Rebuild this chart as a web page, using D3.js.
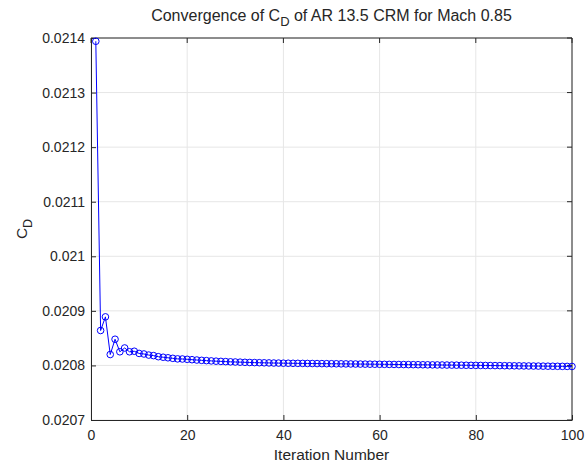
<!DOCTYPE html>
<html>
<head>
<meta charset="utf-8">
<script src="https://cdn.jsdelivr.net/npm/d3@7"></script>
<style>
  body { margin: 0; background: #fff; }
  text { font-family: "Liberation Sans", Arial, Helvetica, sans-serif; fill: #262626; }
</style>
</head>
<body>
<div id="chart"></div>
<script>
// iteration numbers 1..100 and CD values
const iterations = d3.range(1, 101);
const cdValues = [
  0.021394, 0.020864, 0.020889, 0.020820, 0.020848, 0.020825, 0.020832, 0.020825, 0.020826, 0.020822,
  0.020821, 0.020819, 0.020818, 0.020816, 0.020815, 0.020814, 0.020813, 0.020812, 0.0208118, 0.0208112,
  0.0208105, 0.0208099, 0.0208093, 0.0208088, 0.0208083, 0.0208078, 0.0208074, 0.0208070, 0.0208066, 0.0208063,
  0.0208060, 0.0208057, 0.0208054, 0.0208052, 0.0208050, 0.0208048, 0.0208046, 0.0208044, 0.0208043, 0.0208041,
  0.0208040, 0.0208039, 0.0208038, 0.0208037, 0.0208036, 0.0208035, 0.0208034, 0.0208033, 0.0208032, 0.0208031,
  0.0208030, 0.0208029, 0.0208028, 0.0208027, 0.0208026, 0.0208025, 0.0208024, 0.0208023, 0.0208022, 0.0208021,
  0.0208020, 0.0208019, 0.0208018, 0.0208017, 0.0208016, 0.0208015, 0.0208014, 0.0208013, 0.0208012, 0.0208011,
  0.0208010, 0.0208009, 0.0208008, 0.0208007, 0.0208006, 0.0208005, 0.0208004, 0.0208003, 0.0208002, 0.0208001,
  0.0208000, 0.0207999, 0.0207998, 0.0207997, 0.0207996, 0.0207995, 0.0207994, 0.0207993, 0.0207992, 0.0207991,
  0.0207990, 0.0207989, 0.0207988, 0.0207987, 0.0207986, 0.0207985, 0.0207984, 0.0207983, 0.0207982, 0.0207981
];
const xTicks = [0, 20, 40, 60, 80, 100];
const yTicks = [0.0207, 0.0208, 0.0209, 0.021, 0.0211, 0.0212, 0.0213, 0.0214];

const data = iterations.map((it, i) => ({iter: it, cd: cdValues[i]}));

const W = 587, H = 468;
const margin = {top: 38, right: 15, bottom: 48, left: 91};
const width = W - margin.left - margin.right;
const height = H - margin.top - margin.bottom;

const svg = d3.select("#chart").append("svg")
    .attr("width", W)
    .attr("height", H);

const g = svg.append("g")
    .attr("transform", `translate(${margin.left},${margin.top})`);

const x = d3.scaleLinear().domain([0, 100]).range([0, width]);
const y = d3.scaleLinear().domain([0.0207, 0.0214]).range([height, 0]);

// grid
g.append("g").selectAll("line.gx")
    .data(xTicks)
    .join("line")
    .attr("x1", d => x(d)).attr("x2", d => x(d))
    .attr("y1", 0).attr("y2", height)
    .attr("stroke", "#e6e6e6").attr("stroke-width", 1);
g.append("g").selectAll("line.gy")
    .data(yTicks)
    .join("line")
    .attr("y1", d => y(d)).attr("y2", d => y(d))
    .attr("x1", 0).attr("x2", width)
    .attr("stroke", "#e6e6e6").attr("stroke-width", 1);

// axes
const xAxis = d3.axisBottom(x).tickValues(xTicks).tickSizeInner(-5).tickSizeOuter(0).tickPadding(10);
const yAxis = d3.axisLeft(y).tickValues(yTicks).tickSizeInner(-5).tickSizeOuter(0).tickPadding(6)
    .tickFormat(d => String(+d.toFixed(4)));

const gx = g.append("g").attr("transform", `translate(0,${height})`).call(xAxis);
const gy = g.append("g").call(yAxis);
[gx, gy].forEach(a => {
    a.select(".domain").attr("stroke", "#262626");
    a.selectAll(".tick line").attr("stroke", "#262626");
    a.selectAll("text").style("font-size", "14px").attr("fill", "#262626");
});

// top and right box
g.append("line").attr("x1", 0).attr("x2", width).attr("y1", 0).attr("y2", 0).attr("stroke", "#262626");
g.append("line").attr("x1", width).attr("x2", width).attr("y1", 0).attr("y2", height).attr("stroke", "#262626");
// ticks on top and right
g.selectAll("line.tt").data(xTicks).join("line")
    .attr("x1", d => x(d)).attr("x2", d => x(d)).attr("y1", 0).attr("y2", 5).attr("stroke", "#262626");
g.selectAll("line.tr").data(yTicks).join("line")
    .attr("x1", width).attr("x2", width - 5).attr("y1", d => y(d)).attr("y2", d => y(d)).attr("stroke", "#262626");

// line + markers
const line = d3.line().x(d => x(d.iter)).y(d => y(d.cd));
g.append("path").datum(data)
    .attr("d", line)
    .attr("fill", "none")
    .attr("stroke", "#0000ff")
    .attr("stroke-width", 1);
g.selectAll("circle").data(data).join("circle")
    .attr("cx", d => x(d.iter))
    .attr("cy", d => y(d.cd))
    .attr("r", 3.3)
    .attr("fill", "none")
    .attr("stroke", "#0000ff")
    .attr("stroke-width", 1);

// title
const title = svg.append("text")
    .attr("x", margin.left + width / 2).attr("y", 21)
    .attr("text-anchor", "middle")
    .style("font-size", "16px").attr("fill", "#000");
title.append("tspan").text("Convergence of C");
title.append("tspan").attr("dy", 5).style("font-size", "13px").text("D");
title.append("tspan").attr("dy", -5).text(" of AR 13.5 CRM for Mach 0.85");

// x label
svg.append("text")
    .attr("x", margin.left + width / 2).attr("y", 460)
    .attr("text-anchor", "middle")
    .style("font-size", "15.5px")
    .text("Iteration Number");

// y label
const yl = svg.append("text")
    .attr("transform", `translate(27,${margin.top + height / 2}) rotate(-90)`)
    .attr("text-anchor", "middle")
    .style("font-size", "15.5px");
yl.append("tspan").text("C");
yl.append("tspan").attr("dy", 5).style("font-size", "12.5px").text("D");
</script>
</body>
</html>
